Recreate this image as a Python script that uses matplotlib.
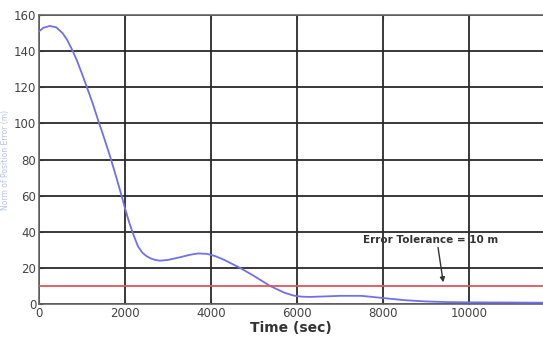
import numpy as np
import matplotlib.pyplot as plt

# values
time_s = [0, 100, 250, 400, 550, 650, 767, 880, 1000, 1116, 1250, 1372, 1500,
          1650, 1800, 1920, 2000, 2100, 2186, 2300, 2400, 2500, 2600, 2700,
          2814, 3000, 3300, 3500, 3700, 3900, 4100, 4300, 4674, 5000, 5372,
          5700, 5900, 6000, 6150, 6300, 7000, 7500, 8000, 8500, 9000, 9500,
          10000, 11000, 11750]
error_m = [151, 153, 154, 153.3, 150, 146.5, 141, 135, 127.5, 120, 111, 102, 93,
           82, 70, 60, 53, 45, 39, 32, 28.5, 26.5, 25.2, 24.4,
           24, 24.4, 26, 27.2, 28, 27.8, 26.5, 24.5, 20, 15.5, 10,
           6.3, 4.8, 4.3, 4, 3.9, 4.5, 4.5, 3.3, 2.1, 1.4, 1.05,
           0.9, 0.8, 0.7]
tolerance = 10
xticks = [0, 2000, 4000, 6000, 8000, 10000]
yticks = [0, 20, 40, 60, 80, 100, 120, 140, 160]

fig = plt.figure(figsize=(5.43, 3.37), dpi=100)
ax = fig.add_axes([0.0718, 0.098, 0.9282, 0.857])

ax.plot(time_s, error_m, color="#7070ee", lw=1.3, zorder=3)
ax.axhline(tolerance, color="#e05555", lw=1.3, zorder=3)

ax.set_xlim(0, 11720)
ax.set_ylim(0, 160)
ax.set_xticks(xticks)
ax.set_yticks(yticks)
ax.grid(True, color="#2a2a2a", lw=1.3)
ax.tick_params(direction="in", length=3, labelsize=8.5, colors="#333333",
               labelcolor="#444444", top=True, pad=2)
for s in ["left", "top", "bottom"]:
    ax.spines[s].set_color("#666666")
    ax.spines[s].set_linewidth(1.2)
ax.spines["right"].set_visible(False)

ax.set_xlabel("Time (sec)", fontsize=10, fontweight="bold", color="#333333",
              labelpad=1)
ax.set_ylabel("Norm of Position Error (m)", fontsize=5.5, color="#8899dd",
              alpha=0.6, labelpad=3)

ax.annotate("Error Tolerance = 10 m", xy=(9400, 12), xytext=(7540, 34),
            fontsize=7.5, fontweight="bold", color="#333333",
            arrowprops=dict(arrowstyle="-|>", color="#333333", lw=1,
                            mutation_scale=7, shrinkA=0, shrinkB=0,
                            relpos=(0.55, 0)),
            zorder=5)

fig.savefig("out.png", dpi=100)
